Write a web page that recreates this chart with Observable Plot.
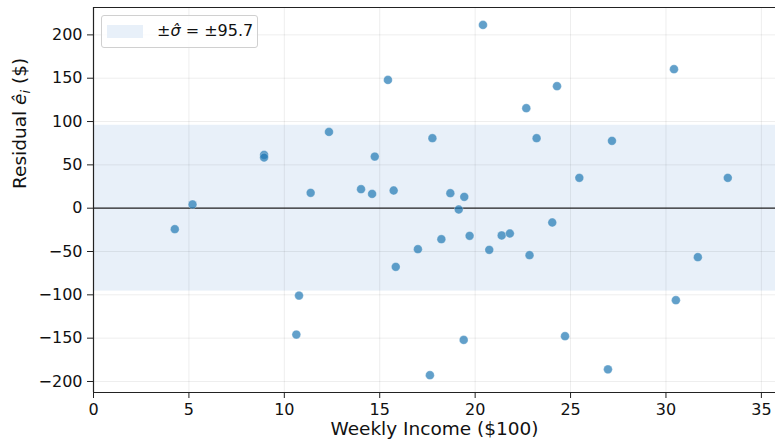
<!DOCTYPE html>
<html><head>
<meta charset="utf-8">
<script src="https://cdn.jsdelivr.net/npm/d3@7"></script>
<script src="https://cdn.jsdelivr.net/npm/@observablehq/plot@0.6"></script>
<style>
body{margin:0;background:#fff;}
#wrap{position:relative;width:775px;height:445px;overflow:hidden;}
#legend{position:absolute;left:101px;top:15px;width:157px;height:33px;box-sizing:border-box;border:1px solid #d0d0d0;border-radius:3px;background:rgba(255,255,255,0.8);font-family:"DejaVu Sans";font-size:16px;color:#111;}
#legend .sw{position:absolute;left:5px;top:9px;width:36px;height:13px;background:#e8f0f9;}
#legend .tx{position:absolute;left:55px;top:5px;white-space:nowrap;}
</style>
</head><body><div id="wrap"></div>
<script>
const income   = [4.26, 5.19, 8.94, 8.94, 10.63, 10.77, 11.38, 12.34, 14.02, 14.60, 14.74, 15.43, 15.73, 15.84, 17.00, 17.63, 17.76, 18.23, 18.70, 19.14, 19.40, 19.43, 19.71, 20.41, 20.74, 21.39, 21.82, 22.68, 22.85, 23.22, 24.04, 24.29, 24.71, 25.46, 26.96, 27.17, 30.42, 30.52, 31.67, 33.24];
const residual = [-24.2, 4.3, 61.5, 58.5, -145.8, -100.8, 17.7, 88.0, 21.9, 16.5, 59.6, 148.0, 20.4, -67.7, -47.3, -192.7, 80.8, -35.8, 17.3, -1.5, -152.0, 13.1, -31.9, 211.5, -48.1, -31.5, -29.2, 115.4, -54.2, 80.8, -16.5, 140.8, -147.7, 35.0, -186.0, 77.7, 160.4, -106.2, -56.5, 35.0];
const sigmaHat = 95.7;
const xTicks = [0, 5, 10, 15, 20, 25, 30, 35];
const yTicks = [-200, -150, -100, -50, 0, 50, 100, 150, 200];
const xDomain = [0, 35.74];
const yDomain = [-212.7, 231.6];
const xLabel = "Weekly Income ($100)";
const yLabel = "Residual ê_i ($)";

const data = income.map((x, i) => ({x, r: residual[i]}));

const chart = Plot.plot({
  width: 775, height: 445,
  marginLeft: 93, marginRight: 0, marginTop: 7, marginBottom: 53,
  style: {fontFamily: "DejaVu Sans", fontSize: "16px", color: "#111", background: "#fff"},
  x: {domain: xDomain, label: null},
  y: {domain: yDomain, label: null},
  marks: [
    Plot.rect([sigmaHat], {y1: d => -d, y2: d => d, fill: "#e8f0f9"}),
    Plot.gridX(xTicks, {stroke: "#000", strokeOpacity: 0.09, strokeWidth: 0.8}),
    Plot.gridY(yTicks, {stroke: "#000", strokeOpacity: 0.09, strokeWidth: 0.8}),
    Plot.ruleY([0], {stroke: "#222", strokeWidth: 1.2}),
    Plot.dot(data, {x: "x", y: "r", r: 4.4, fill: "#1f77b4", fillOpacity: 0.7, stroke: "#fff", strokeOpacity: 0.6, strokeWidth: 0.5}),
    Plot.ruleY([yDomain[0], yDomain[1]], {stroke: "#222", strokeWidth: 1.2}),
    Plot.ruleX([xDomain[0]], {stroke: "#222", strokeWidth: 1.2}),
    Plot.axisX(xTicks, {tickSize: 6, tickPadding: 5, stroke: "#222", fontSize: 16, label: null}),
    Plot.axisY(yTicks, {tickSize: 6, tickPadding: 5, stroke: "#222", fontSize: 16, label: null}),
    Plot.text([xLabel], {frameAnchor: "bottom", dy: 42, text: d => d, fontSize: 18.5, fill: "#111"}),
    Plot.text([yLabel], {frameAnchor: "left", dx: -73, dy: -11, rotate: -90, text: d => d, fontSize: 18.5, fill: "#111", className: "ylab"})
  ]
});

const wrap = document.getElementById("wrap");
wrap.appendChild(chart);

// rebuild y label with math styling
d3.select(chart).selectAll("g.ylab text").each(function() {
  const t = d3.select(this);
  const parts = yLabel.split("ê_i");
  t.text(null);
  t.append("tspan").text(parts[0]);
  t.append("tspan").attr("font-style", "italic").text("ê");
  t.append("tspan").attr("font-style", "italic").attr("font-size", "13px").attr("dy", "0.3em").text("i");
  t.append("tspan").attr("dy", "-0.25em").text(parts[1]);
});

const lg = document.createElement("div");
lg.id = "legend";
lg.innerHTML = `<div class="sw"></div><div class="tx">±<i>σ̂</i> = ±${sigmaHat.toFixed(1)}</div>`;
wrap.appendChild(lg);
</script>
</body></html>
